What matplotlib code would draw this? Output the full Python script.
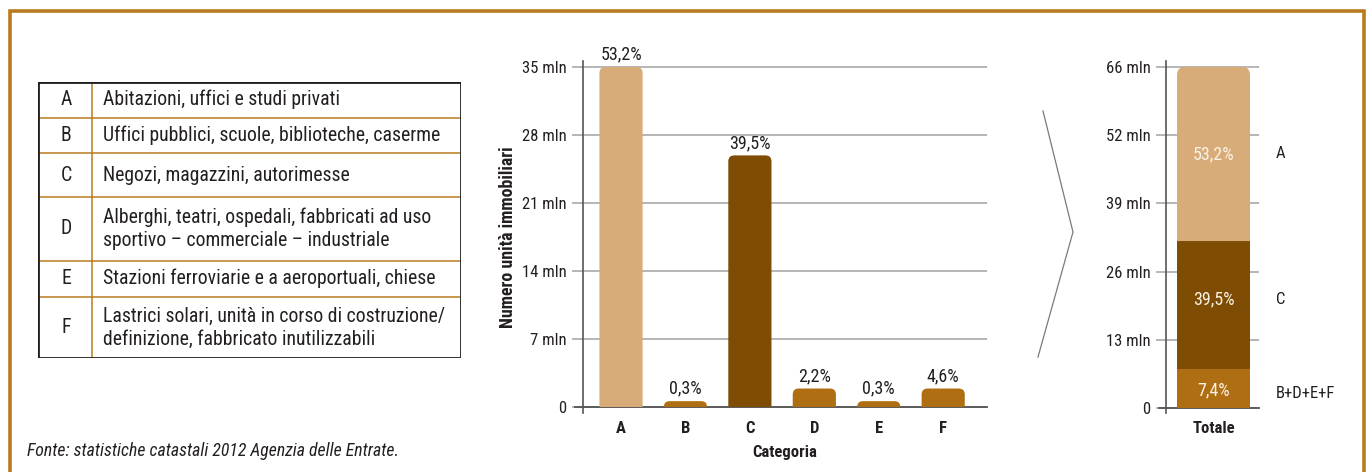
import numpy as np
import matplotlib
matplotlib.use("Agg")
import matplotlib.pyplot as plt
from matplotlib import font_manager as fm
from matplotlib.patches import PathPatch, Rectangle
from matplotlib.path import Path
from matplotlib.lines import Line2D

# narrow sans if one is installed, else the plain one
installed = fm.fontManager.ttflist
names = {f.name for f in installed}
family = None
for cand in ["Liberation Sans Narrow", "Roboto Condensed", "DejaVu Sans Condensed",
             "Noto Sans Condensed", "Open Sans Condensed"]:
    if cand in names:
        family = cand
        break
stretch = "normal"
if family is None:
    for f in installed:
        if f.stretch in ("condensed", "semi-condensed", "extra-condensed") and \
                f.name in ("DejaVu Sans", "Noto Sans", "Open Sans", "Roboto", "Inter"):
            family, stretch = f.name, "condensed"
            break
if family is None:
    family = "Roboto"
plt.rcParams['font.family'] = [family, 'DejaVu Sans']
plt.rcParams['font.stretch'] = stretch

# Categorie catastali e descrizioni
letters = ["A", "B", "C", "D", "E", "F"]
descriptions = [
    "Abitazioni, uffici e studi privati",
    "Uffici pubblici, scuole, biblioteche, caserme",
    "Negozi, magazzini, autorimesse",
    "Alberghi, teatri, ospedali, fabbricati ad uso\nsportivo \u2013 commerciale \u2013 industriale",
    "Stazioni ferroviarie e a aeroportuali, chiese",
    "Lastrici solari, unit\u00e0 in corso di costruzione/\ndefinizione, fabbricato inutilizzabili",
]

# Unita' immobiliari per categoria (milioni) e quota sul totale
units_mln = [35.0, 0.6, 25.9, 1.9, 0.6, 1.9]
shares = ["53,2%", "0,3%", "39,5%", "2,2%", "0,3%", "4,6%"]
main_ticks = [0, 7, 14, 21, 28, 35]
main_ticklabels = ["0", "7 mln", "14 mln", "21 mln", "28 mln", "35 mln"]

# Totale impilato: B+D+E+F, C, A (milioni)
stack_groups = ["B+D+E+F", "C", "A"]
stack_mln = [7.5, 24.8, 33.7]
stack_shares = ["7,4%", "39,5%", "53,2%"]
total_ticks = np.linspace(0, 66, 6)
total_ticklabels = ["0", "13 mln", "26 mln", "39 mln", "52 mln", "66 mln"]

light = "#D8AC78"
dark = "#7E4C02"
mid = "#B06E12"
bar_colors = [light, mid, dark, mid, mid, mid]
stack_colors = [mid, dark, light]
frame_col = "#BA7A1E"
txt = "#231F20"
grid_col = "#A9A9A9"
axis_col = "#555555"
fs_tick = 12
fs_val = 13
fs_tab = 14.2

W, H = 1369, 472
fig = plt.figure(figsize=(W / 100, H / 100), dpi=100)


def fig_rect(x0, y0, x1, y1):
    # pixel box (top-left origin) -> figure fraction rect
    return [x0 / W, 1 - y1 / H, (x1 - x0) / W, (y1 - y0) / H]


def rounded_bar(ax, x, bottom, height, width, color, r_px, zorder=3):
    # bar with rounded top corners only, as one path in data coords
    bb = ax.get_position()
    xl, yl = ax.get_xlim(), ax.get_ylim()
    ppx = bb.width * W / (xl[1] - xl[0])
    ppy = bb.height * H / (yl[1] - yl[0])
    r_px = min(r_px, height * ppy, width * ppx / 2)
    rx, ry = r_px / ppx, r_px / ppy
    x0, x1 = x - width / 2, x + width / 2
    top = bottom + height
    verts = [(x0, bottom), (x0, top - ry), (x0, top), (x0 + rx, top),
             (x1 - rx, top), (x1, top), (x1, top - ry), (x1, bottom), (x0, bottom)]
    codes = [Path.MOVETO, Path.LINETO, Path.CURVE3, Path.CURVE3,
             Path.LINETO, Path.CURVE3, Path.CURVE3, Path.LINETO, Path.CLOSEPOLY]
    ax.add_patch(PathPatch(Path(verts, codes), fc=color, ec="none", zorder=zorder))


# ---- orange frame
frame = fig.add_axes([0, 0, 1, 1])
frame.set_xlim(0, W)
frame.set_ylim(H, 0)
frame.axis("off")
frame.plot([10, 10, 1364, 1364], [H + 5, 11, 11, H + 5], color=frame_col, lw=2.6,
           solid_joinstyle="miter")
# chevron between the two charts
frame.add_line(Line2D([1043, 1073, 1038], [111, 232, 357], color="#7A7A7A", lw=0.9))
frame.text(27, 451, "Fonte: statistiche catastali 2012 Agenzia delle Entrate.",
           fontsize=12.8, style="italic", color=txt, va="center", ha="left")

# ---- legend table
tab = fig.add_axes(fig_rect(38, 81.7, 461, 358.3))
tab.set_xlim(0, 423)
tab.set_ylim(276.6, 0)
tab.axis("off")
edges = [0, 36, 71.6, 115.6, 179, 215, 276.6]
for y in edges[1:-1]:
    tab.plot([1, 422], [y, y], color=frame_col, lw=1.1, zorder=1)
tab.plot([54.3, 54.3], [0, 276.6], color=frame_col, lw=1.1, zorder=1)
tab.add_patch(Rectangle((0, 0), 423, 276.6, fill=False, ec="#1E1E1E", lw=2, zorder=2))
for i, (let, desc) in enumerate(zip(letters, descriptions)):
    yc = (edges[i] + edges[i + 1]) / 2
    tab.text(28, yc, let, fontsize=fs_tab, color=txt, ha="center", va="center")
    tab.text(65, yc, desc, fontsize=fs_tab, color=txt, ha="left", va="center",
             linespacing=1.27)

# ---- main bar chart
ax = fig.add_axes(fig_rect(583, 60.7, 987, 413))
ax.set_xlim(-0.59, 5.68)
ax.set_ylim(-0.62, 35.65)
x = np.arange(len(letters))
for xi, v, c, s in zip(x, units_mln, bar_colors, shares):
    rounded_bar(ax, xi, 0, v, 0.67, c, 6)
    ax.text(xi, v + 0.35, s, ha="center", va="bottom", fontsize=fs_val, color=txt)
ax.set_yticks(main_ticks)
ax.set_yticklabels(main_ticklabels)
ax.grid(axis="y", color=grid_col, lw=1.2)
ax.set_axisbelow(True)
ax.axhline(0, xmin=-0.02, color=axis_col, lw=1.3, clip_on=False, zorder=2)
ax.tick_params(axis="y", length=8, width=1.2, color=grid_col, labelsize=fs_tick,
               labelcolor=txt, pad=4)
ax.set_xticks(x)
ax.set_xticklabels(letters, fontweight="bold")
ax.tick_params(axis="x", length=0, labelsize=fs_tick, labelcolor=txt, pad=6)
for sp in ["top", "right", "bottom"]:
    ax.spines[sp].set_visible(False)
ax.spines["left"].set_color(axis_col)
ax.spines["left"].set_linewidth(1.2)
ax.set_xlabel("Categoria", fontweight="bold", fontsize=fs_tick, color=txt)
ax.xaxis.set_label_coords(0.5, -0.091)
ax.set_ylabel("Numero unit\u00e0 immobiliari", fontweight="bold", fontsize=12.9,
              color=txt)
ax.yaxis.set_label_coords(-0.163, 0.5)

# ---- stacked total
ax2 = fig.add_axes(fig_rect(1166, 60.7, 1259, 413))
ax2.set_xlim(-0.651, 0.623)
ax2.set_ylim(-0.97, 67.2)
bottoms = np.concatenate([[0], np.cumsum(stack_mln)[:-1]])
label_shift = [-0.4, 1.1, 0.0]
for i, (b, v, c, s, g) in enumerate(zip(bottoms, stack_mln, stack_colors,
                                        stack_shares, stack_groups)):
    if i == len(stack_mln) - 1:
        rounded_bar(ax2, 0, b, v, 1.0, c, 8)
    else:
        ax2.bar(0, v, bottom=b, width=1.0, color=c, zorder=3)
    yc = b + v / 2 + label_shift[i]
    ax2.text(0, yc, s, ha="center", va="center", fontsize=fs_val, color="#FAF1E6",
             zorder=4)
    ax2.text(0.85, yc - (0.6 if i == 0 else 0), g, ha="left", va="center",
             fontsize=fs_tick, color=txt, clip_on=False)
ax2.set_yticks(total_ticks)
ax2.set_yticklabels(total_ticklabels)
ax2.grid(axis="y", color=grid_col, lw=1.2)
ax2.set_axisbelow(True)
ax2.axhline(0, xmin=-0.08, color=axis_col, lw=1.3, clip_on=False, zorder=2)
ax2.tick_params(axis="y", length=7, width=1.2, color=grid_col, labelsize=fs_tick,
                labelcolor=txt, pad=4)
ax2.set_xticks([0])
ax2.set_xticklabels(["Totale"], fontweight="bold")
ax2.tick_params(axis="x", length=0, labelsize=fs_tick, labelcolor=txt, pad=6)
for sp in ["top", "right", "bottom"]:
    ax2.spines[sp].set_visible(False)
ax2.spines["left"].set_color(axis_col)
ax2.spines["left"].set_linewidth(1.2)

fig.savefig("out.png", dpi=100)
